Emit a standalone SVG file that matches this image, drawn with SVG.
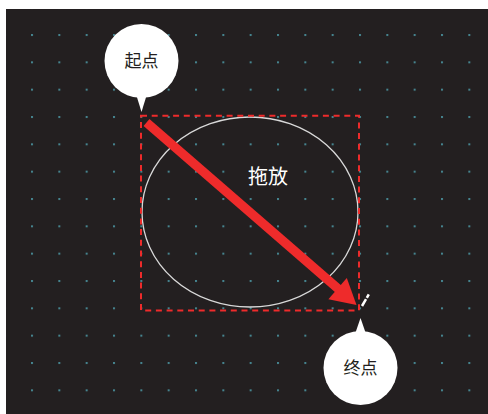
<svg xmlns="http://www.w3.org/2000/svg" width="488" height="414" viewBox="0 0 488 414">
  <style>
    .callout { fill: #ffffff; }
    .ctext { font-family: "Noto Sans CJK SC", "Noto Sans", sans-serif; font-size: 17px; fill: #231f20; text-anchor: middle; }
    .ltext { font-family: "Noto Sans CJK SC", "Noto Sans", sans-serif; font-size: 20px; fill: #ffffff; text-anchor: middle; }
  </style>
  <defs>
    <pattern id="grid" patternUnits="userSpaceOnUse" x="31" y="34" width="27.333" height="27.333">
      <rect x="0" y="0" width="2" height="2" fill="#45848f"/>
    </pattern>
  </defs>
  <rect x="0" y="0" width="488" height="414" fill="#ffffff"/>
  <rect x="6" y="9" width="482" height="405" fill="#231f20"/>
  <rect x="6" y="9" width="482" height="405" fill="url(#grid)"/>

  <g id="shape">
    <ellipse cx="250" cy="212" rx="108" ry="95" fill="none" stroke="#d9d9d9" stroke-width="1.3"/>
    <rect x="141" y="115.7" width="218" height="194.8" fill="none" stroke="#ee2b2b" stroke-width="2" stroke-dasharray="6 4.7"/>
    <text class="ltext" x="268" y="184">拖放</text>
  </g>

  <g id="connectors">
    <line x1="146.5" y1="122.5" x2="339" y2="289.5" stroke="#ee2b2b" stroke-width="9"/>
    <polygon points="356.5,305 328.4,299.2 346.8,278" fill="#ee2b2b"/>
    <line x1="362" y1="306" x2="369" y2="294" stroke="#ffffff" stroke-width="2.5" stroke-dasharray="8 1.5 4"/>
  </g>

  <g id="start">
    <circle class="callout" cx="141.5" cy="61" r="37"/>
    <polygon class="callout" points="136,94 147,94 141.5,112"/>
    <text class="ctext" x="141.5" y="67">起点</text>
  </g>

  <g id="end">
    <circle class="callout" cx="360.5" cy="368" r="37"/>
    <polygon class="callout" points="355,334 366,334 360.5,318"/>
    <text class="ctext" x="360.5" y="374">终点</text>
  </g>
</svg>
